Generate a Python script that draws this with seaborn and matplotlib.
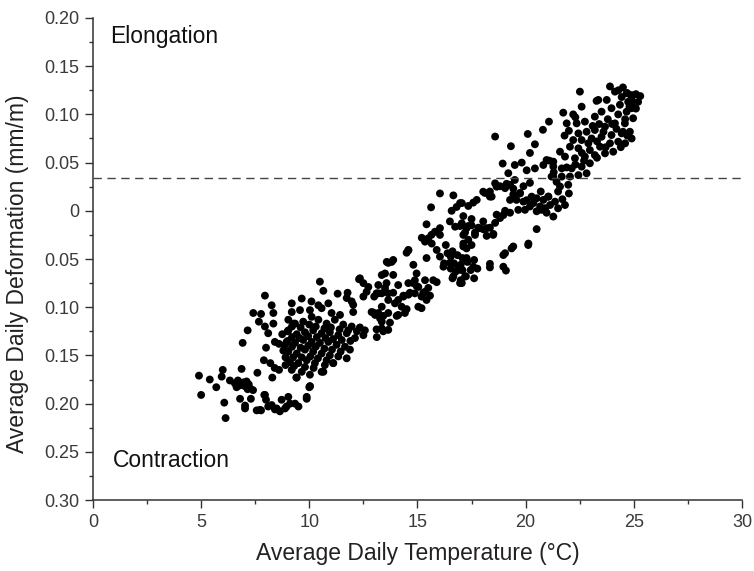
import matplotlib
matplotlib.use("Agg")
import matplotlib.pyplot as plt
import seaborn as sns
import pandas as pd
from matplotlib.ticker import MultipleLocator, FuncFormatter

# ---- data ----
seg_a_t = [4.9, 5.0, 5.4, 5.7, 5.95, 6.0, 6.07, 6.13, 6.33, 6.56, 6.64, 6.8, 6.87, 6.8, 7.03, 7.1, 7.03, 7.03, 7.26, 7.3,
           7.6, 7.57, 7.77, 7.92, 8.0, 8.1, 8.29, 8.41, 8.72, 8.88, 9.11, 6.7, 7.2, 7.4, 6.95, 7.15,
           7.72, 7.95, 8.26, 8.49, 8.64, 8.95, 9.34, 9.5, 9.88, 10.03, 9.42, 10.0, 10.65, 11.1]
seg_a_d = [-0.171, -0.191, -0.175, -0.183, -0.172, -0.165, -0.199, -0.215, -0.176, -0.179, -0.183, -0.181, -0.164, -0.195, -0.182, -0.177, -0.202, -0.205, -0.184, -0.195,
           -0.168, -0.207, -0.207, -0.191, -0.196, -0.203, -0.173, -0.206, -0.196, -0.205, -0.2, -0.176, -0.18, -0.186, -0.178, -0.185,
           -0.2065, -0.191, -0.2015, -0.205, -0.208, -0.203, -0.2, -0.203, -0.195, -0.182, -0.173, -0.183, -0.167, -0.158]

seg_b_t = [7.95, 8.26, 7.41, 7.77, 8.34, 7.67, 7.95, 8.34, 7.15, 8.1, 6.92, 8.0, 8.41, 7.9, 8.2, 8.4, 8.6, 8.6, 8.8, 9.0,
           9.26, 8.9, 8.75]
seg_b_d = [-0.088, -0.098, -0.106, -0.107, -0.106, -0.115, -0.12, -0.117, -0.124, -0.127, -0.137, -0.142, -0.136, -0.155, -0.158, -0.163, -0.165, -0.138, -0.145, -0.135,
           -0.117, -0.152, -0.128]

seg_c_t = [9.03, 9.34, 9.72, 10.11, 10.42, 10.8, 11.18, 11.57, 11.96, 12.34, 12.57,
           9.03, 9.42, 9.8, 10.18, 10.57, 10.95, 11.34, 11.73, 12.11, 12.5,
           8.95, 9.34, 9.72, 10.11, 10.49, 10.88, 11.26, 11.65, 11.88,
           9.03, 9.42, 9.8, 10.18, 10.57, 10.95, 11.34, 11.73,
           9.1, 9.49, 9.88, 10.26, 10.72, 11.11,
           9.19, 9.65, 10.03, 10.57, 9.4, 10.03, 9.88, 9.03,
           10.49, 12.3, 13.35, 10.65, 11.31, 11.77, 12.5, 12.73, 12.65, 12.5, 13.0, 13.19,
           9.19, 9.65, 10.1, 10.42, 9.19, 9.57, 10.03, 10.57, 10.88, 11.03, 11.42, 11.96, 12.03,
           12.88, 13.04, 13.27, 13.35, 13.42, 13.12,
           9.2, 9.6, 10.0, 10.3, 10.7, 11.0, 11.4, 11.8, 12.2,
           9.2, 9.55, 9.95, 10.35, 10.75, 11.1, 11.5, 11.9,
           9.2, 9.6, 9.95, 10.3, 10.7, 11.05, 11.45,
           9.25, 9.65, 10.05, 10.4, 10.8, 9.3, 9.8, 10.2,
           8.9, 9.0, 8.85]
seg_c_d = [-0.113, -0.117, -0.115, -0.11, -0.113, -0.117, -0.113, -0.118, -0.12, -0.121, -0.124,
           -0.124, -0.128, -0.126, -0.124, -0.127, -0.126, -0.129, -0.127, -0.132, -0.129,
           -0.136, -0.137, -0.134, -0.136, -0.137, -0.136, -0.139, -0.141, -0.144,
           -0.146, -0.148, -0.144, -0.146, -0.148, -0.15, -0.151, -0.153,
           -0.157, -0.158, -0.155, -0.158, -0.16, -0.158,
           -0.165, -0.167, -0.17, -0.167, -0.173, -0.182, -0.193, -0.193,
           -0.0735, -0.071, -0.0666, -0.083, -0.086, -0.085, -0.075, -0.079, -0.084, -0.089, -0.089, -0.0856,
           -0.096, -0.091, -0.094, -0.098, -0.105, -0.103, -0.103, -0.101, -0.096, -0.106, -0.108, -0.094, -0.105,
           -0.105, -0.108, -0.1115, -0.115, -0.125, -0.131,
           -0.12, -0.121, -0.118, -0.12, -0.122, -0.121, -0.123, -0.124, -0.125,
           -0.131, -0.132, -0.13, -0.131, -0.132, -0.133, -0.134, -0.135,
           -0.141, -0.142, -0.14, -0.141, -0.143, -0.144, -0.146,
           -0.152, -0.152, -0.151, -0.153, -0.155, -0.161, -0.162, -0.163,
           -0.16, -0.125, -0.14]

seg_d_t = [13.58, 13.81, 13.5, 13.88, 13.19, 13.5, 13.11, 13.35, 13.65,
           14.11, 14.58, 14.88, 14.96, 14.81, 15.04, 15.35, 15.5, 15.73, 15.89, 15.35, 15.19, 15.42, 14.88, 14.58, 14.35,
           14.11, 14.27, 13.96, 13.65, 13.35, 13.19, 13.65, 14.11, 14.42, 15.04, 15.19, 13.35, 13.65,
           14.58, 14.5,
           15.63, 15.42, 15.81, 16.04, 15.5, 15.35, 15.66,
           16.31, 16.39, 16.54, 16.23, 16.62, 16.85, 17.08, 16.69, 17.0, 17.31, 17.62, 17.77, 17.46, 17.08, 16.77, 16.54,
           17.24, 17.62, 17.0, 16.62,
           16.58, 16.81, 17.05, 16.5, 16.74, 17.05, 17.27, 17.5, 17.12, 17.35, 17.12, 17.27, 17.5,
           12.96, 13.42, 13.73, 13.11, 14.04, 14.5, 14.35, 14.65, 14.96, 15.27, 15.58, 13.88, 13.57, 13.65, 13.88,
           14.58, 15.2, 15.65, 16.04, 15.89, 16.04, 16.5, 16.89, 16.66, 16.97, 17.28, 16.2, 15.42, 14.81,
           16.04, 16.66, 12.34, 11.73, 12.03]
seg_d_d = [-0.053, -0.053, -0.065, -0.0665, -0.077, -0.08, -0.0856, -0.0856, -0.0856,
           -0.077, -0.075, -0.072, -0.065, -0.075, -0.079, -0.072, -0.08, -0.072, -0.074, -0.084, -0.089, -0.0925, -0.0856, -0.087, -0.089,
           -0.0925, -0.0995, -0.096, -0.0925, -0.0995, -0.106, -0.106, -0.108, -0.106, -0.0995, -0.101, -0.122, -0.1235,
           -0.041, -0.0435,
           0.0036, -0.014, -0.0217, -0.025, -0.0285, -0.032, -0.034,
           -0.0355, -0.044, -0.0475, -0.0545, -0.042, -0.046, -0.049, -0.0545, -0.056, -0.053, -0.051, -0.06, -0.0615, -0.0615, -0.063, -0.06,
           -0.068, -0.07, -0.072, -0.07,
           0.0, 0.004, 0.008, -0.011, -0.0165, -0.013, -0.018, -0.015, -0.025, -0.03, -0.034, -0.039, -0.0355,
           -0.1055, -0.109, -0.116, -0.123, -0.109, -0.102, -0.088, -0.085, -0.078, -0.085, -0.088, -0.085, -0.075, -0.054, -0.051,
           -0.0406, -0.028, -0.0249, -0.018, -0.0406, -0.0475, -0.054, -0.059, -0.068, -0.075, -0.051, -0.058, -0.049, -0.056,
           0.018, 0.016, -0.07, -0.0905, -0.0975]

seg_e_t = [18.59, 20.1, 20.8, 19.32, 20.43, 20.2, 18.94, 19.5, 19.82, 20.05, 20.43, 20.82, 21.1, 21.28, 19.2, 19.5, 20.2, 21.28, 21.43,
           18.59, 18.82, 19.05, 19.28, 18.35, 18.12, 18.43, 17.74, 17.58, 19.9, 19.74, 19.43, 19.28, 19.58, 19.9, 20.28, 20.51, 20.82,
           21.05, 21.13, 20.67, 20.2, 19.97, 19.66, 19.28, 18.97, 18.82, 18.59, 18.35, 18.05, 17.81, 17.66, 18.2, 18.51, 20.51, 20.74, 20.97,
           16.97, 17.12, 16.97, 17.35, 17.2, 17.12, 17.27, 17.58, 16.97, 17.2, 17.05,
           20.51, 20.12, 19.35, 18.97, 18.35, 19.09, 21.28, 21.5,
           18.04, 18.35, 18.66, 19.12, 19.43, 19.74, 20.05, 20.36, 19.05, 18.66, 18.04, 17.89, 17.66, 18.2, 18.5, 17.35, 17.5,
           20.13, 19.43, 19.05, 18.97, 18.35]
seg_e_d = [0.077, 0.0797, 0.084, 0.067, 0.069, 0.06, 0.049, 0.0475, 0.05, 0.042, 0.044, 0.0475, 0.052, 0.046, 0.039, 0.032, 0.029, 0.0355, 0.03,
           0.0285, 0.0255, 0.0235, 0.027, 0.02, 0.0185, 0.0147, 0.0113, 0.0085, 0.0255, 0.0185, 0.017, 0.0113, 0.0113, 0.0095, 0.0147, 0.013, 0.0113,
           0.0147, 0.006, 0.0045, 0.0045, 0.001, 0.001, -0.002, -0.0045, -0.0075, -0.0125, -0.0175, -0.0192, -0.0175, -0.0225, -0.026, -0.024, -0.0005, 0.001, -0.002,
           0.008, -0.0055, -0.0158, -0.0158, -0.0225, -0.037, -0.049, -0.058, -0.0612, -0.068, -0.075,
           -0.019, -0.0355, -0.039, -0.0459, -0.0587, -0.062, -0.006, 0.0026,
           0.0198, 0.0147, 0.025, 0.028, 0.023, 0.018, 0.011, 0.008, 0.0, -0.004, -0.011, -0.018, -0.025, -0.018, -0.025, 0.005, -0.0085,
           -0.034, -0.037, -0.044, -0.058, -0.055]

seg_f_t = [22.51, 23.36, 23.75, 24.13, 24.44, 24.67, 24.9, 23.9, 24.29, 23.28,
           22.59, 21.74, 21.08, 21.9, 22.36, 22.74, 23.2, 23.51, 23.97, 24.36, 24.74, 24.28, 24.67, 24.9, 24.97, 24.59, 24.13, 23.67,
           23.2, 22.82, 22.44, 22.2, 22.59, 23.05, 23.51, 23.97, 24.44, 24.82, 24.28, 23.9, 23.44, 22.97, 22.44, 22.05, 21.59, 21.82,
           22.28, 22.74, 23.2, 23.67, 24.05, 22.97, 22.59, 22.13, 21.67, 21.28, 20.97, 21.2, 21.67, 22.05, 22.44, 22.82, 21.59, 21.97,
           21.05, 21.36, 21.82, 20.9,
           24.7, 24.9, 25.1, 25.3, 25.0, 25.2, 24.8, 25.1, 24.5, 24.6, 24.5, 24.7, 24.9, 24.6, 24.4,
           22.9, 23.3, 23.6, 24.0, 23.8, 23.4, 22.6, 22.3, 21.9, 23.1, 24.2, 23.7, 23.3, 22.7, 21.3, 21.5, 22.0, 21.7, 20.7, 21.8,
           22.0, 22.3, 22.2]
seg_f_d = [0.1236, 0.115, 0.115, 0.1236, 0.118, 0.122, 0.12, 0.129, 0.125, 0.114,
           0.108, 0.1018, 0.0925, 0.0907, 0.0907, 0.0925, 0.0977, 0.1028, 0.1064, 0.11, 0.113, 0.1, 0.1028, 0.1064, 0.096, 0.0907, 0.0907, 0.0873,
           0.0838, 0.082, 0.0803, 0.0734, 0.0734, 0.075, 0.0768, 0.0786, 0.0803, 0.082, 0.0717, 0.07, 0.0665, 0.063, 0.0648, 0.0665, 0.0613, 0.0562,
           0.0545, 0.0562, 0.0578, 0.0596, 0.0613, 0.0493, 0.0458, 0.044, 0.044, 0.051, 0.0527, 0.0355, 0.0355, 0.0355, 0.037, 0.0389, 0.0252, 0.027,
           0.0147, 0.0095, 0.006, 0.0027,
           0.122, 0.118, 0.121, 0.119, 0.112, 0.113, 0.108, 0.106, 0.128, 0.095, 0.082, 0.078, 0.075, 0.07, 0.066,
           0.07, 0.072, 0.082, 0.09, 0.095, 0.09, 0.06, 0.048, 0.045, 0.088, 0.085, 0.066, 0.055, 0.052, 0.04, 0.02, 0.018, 0.012, 0.02, 0.078,
           0.083, 0.097, 0.1]

threshold = 0.034
x_ticks = [0, 5, 10, 15, 20, 25, 30]
y_ticks = [-0.30, -0.25, -0.20, -0.15, -0.10, -0.05, 0.0, 0.05, 0.10, 0.15, 0.20]

temperature = seg_a_t + seg_b_t + seg_c_t + seg_d_t + seg_e_t + seg_f_t
deformation = seg_a_d + seg_b_d + seg_c_d + seg_d_d + seg_e_d + seg_f_d
df = pd.DataFrame({"temp": temperature, "deform": deformation})

# ---- style ----
sns.set_style("ticks")
plt.rcParams["font.family"] = ["Liberation Sans", "DejaVu Sans"]

fig = plt.figure(figsize=(7.54, 5.71), dpi=100)
ax = fig.add_axes([0.1233, 0.1243, 0.8607, 0.8442])

sns.scatterplot(data=df, x="temp", y="deform", ax=ax, color="black", s=32,
                linewidth=0, edgecolor="none", legend=False)

ax.axhline(threshold, color="#444444", linestyle=(0, (6, 4)), linewidth=1.0)

ax.set_xlim(0, 30)
ax.set_ylim(-0.30, 0.20)
ax.set_xticks(x_ticks)
ax.set_yticks(y_ticks)
ax.xaxis.set_minor_locator(MultipleLocator(2.5))
ax.yaxis.set_minor_locator(MultipleLocator(0.025))
ax.yaxis.set_major_formatter(FuncFormatter(lambda v, p: "0" if abs(v) < 1e-9 else f"{abs(v):.2f}"))

for s in ["top", "right"]:
    ax.spines[s].set_visible(False)
for s in ["left", "bottom"]:
    ax.spines[s].set_color("#333333")
    ax.spines[s].set_linewidth(1.1)

ax.tick_params(axis="both", which="major", direction="out", length=6, width=1.0,
               color="#333333", labelsize=13, labelcolor="#3a3a3a", pad=4)
ax.tick_params(axis="both", which="minor", direction="out", length=3, width=1.0, color="#333333")

ax.set_xlabel("Average Daily Temperature (°C)", fontsize=16.5, color="#222222", labelpad=8)
ax.set_ylabel("Average Daily Deformation (mm/m)", fontsize=16.5, color="#222222")
ax.yaxis.set_label_coords(-0.099, 0.469)

ax.text(0.8, 0.181, "Elongation", fontsize=16.5, color="#111111", va="center", ha="left")
ax.text(0.9, -0.259, "Contraction", fontsize=16.5, color="#111111", va="center", ha="left")

fig.savefig("out.png", dpi=100)
